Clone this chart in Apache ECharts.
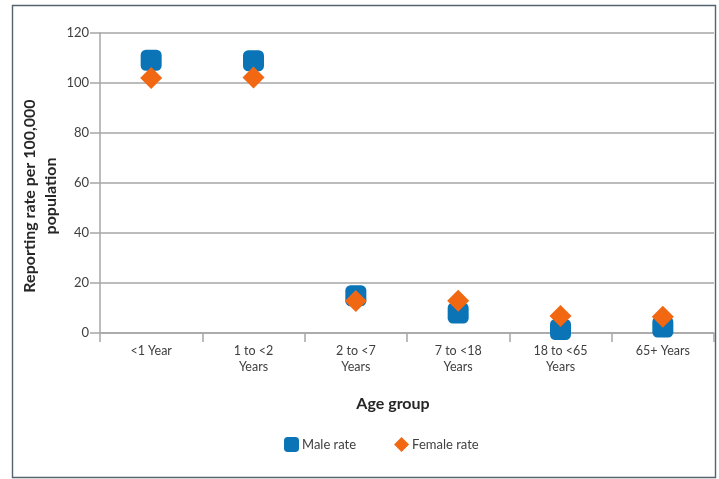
<!DOCTYPE html>
<html>
<head>
<meta charset="utf-8">
<script src="https://cdn.jsdelivr.net/npm/echarts@6/dist/echarts.min.js"></script>
<style>
  html, body { margin: 0; padding: 0; background: #fff; }
  #chart { width: 719px; height: 479px; }
</style>
</head>
<body>
<div id="chart"></div>
<script>
// Age groups along the x axis
const ageGroups = ['<1 Year', '1 to <2\nYears', '2 to <7\nYears', '7 to <18\nYears', '18 to <65\nYears', '65+ Years'];
// Reporting rate per 100,000 population
const maleRate = [109.1, 108.9, 14.9, 8.0, 1.4, 2.4];
const femaleRate = [102.0, 102.2, 12.8, 12.9, 6.8, 6.5];
// Y axis range
const yMin = 0, yMax = 120, yStep = 20;

const FONT = 'Lato, "Open Sans", sans-serif';
const TXT = '#404040';
const LINE = '#a6a6a6';

const chart = echarts.init(document.getElementById('chart'), null, { renderer: 'canvas' });
chart.setOption({
  animation: false,
  backgroundColor: '#fff',
  textStyle: { fontFamily: FONT },
  graphic: [{
    type: 'rect',
    shape: { x: 12.5, y: 5.5, width: 703, height: 472 },
    style: { fill: 'none', stroke: '#55636f', lineWidth: 1.4 },
    silent: true
  }],
  grid: { left: 100, right: 5, top: 33, bottom: 146, containLabel: false },
  legend: {
    data: [
      { name: 'Male rate', icon: 'roundRect' },
      { name: 'Female rate', icon: 'diamond' }
    ],
    left: 279, top: 432, itemWidth: 15, itemHeight: 15, itemGap: 38,
    textStyle: { color: TXT, fontSize: 13, fontFamily: FONT, padding: [0, 0, 0, -2] }
  },
  xAxis: {
    type: 'category',
    data: ageGroups,
    boundaryGap: true,
    name: 'Age group',
    nameLocation: 'middle',
    nameGap: 63,
    nameTextStyle: { color: '#262626', fontSize: 16, fontWeight: 'bold', fontFamily: FONT, padding: [0, 28, 0, 0] },
    axisLine: { lineStyle: { color: LINE, width: 1.5 } },
    axisTick: { show: true, length: 9, lineStyle: { color: LINE, width: 1.5 } },
    axisLabel: { color: TXT, fontSize: 12.5, lineHeight: 16, margin: 10, interval: 0, fontFamily: FONT },
    splitLine: { show: false }
  },
  yAxis: {
    type: 'value',
    min: yMin, max: yMax, interval: yStep,
    name: 'Reporting rate per 100,000\npopulation',
    nameLocation: 'middle',
    nameRotate: 90,
    nameGap: 39,
    nameMoveOverlap: false,
    nameTextStyle: { color: '#262626', fontSize: 16, fontWeight: 'bold', lineHeight: 21, fontFamily: FONT, padding: [0, 26, 0, 0] },
    axisLine: { show: true, lineStyle: { color: LINE, width: 1.5 } },
    axisTick: { show: true, inside: false, length: 10, lineStyle: { color: LINE, width: 1.5 } },
    axisLabel: { color: TXT, fontSize: 13, margin: 11, fontFamily: FONT },
    splitLine: { show: true, lineStyle: { color: LINE, width: 1.5 } }
  },
  series: [
    {
      name: 'Male rate',
      type: 'scatter',
      data: maleRate,
      symbol: 'roundRect',
      symbolSize: 21,
      itemStyle: { color: '#0a74b7', opacity: 1 },
      z: 2
    },
    {
      name: 'Female rate',
      type: 'scatter',
      data: femaleRate,
      symbol: 'diamond',
      symbolSize: 22,
      itemStyle: { color: '#f26712', opacity: 1 },
      z: 3
    }
  ]
});
</script>
</body>
</html>
